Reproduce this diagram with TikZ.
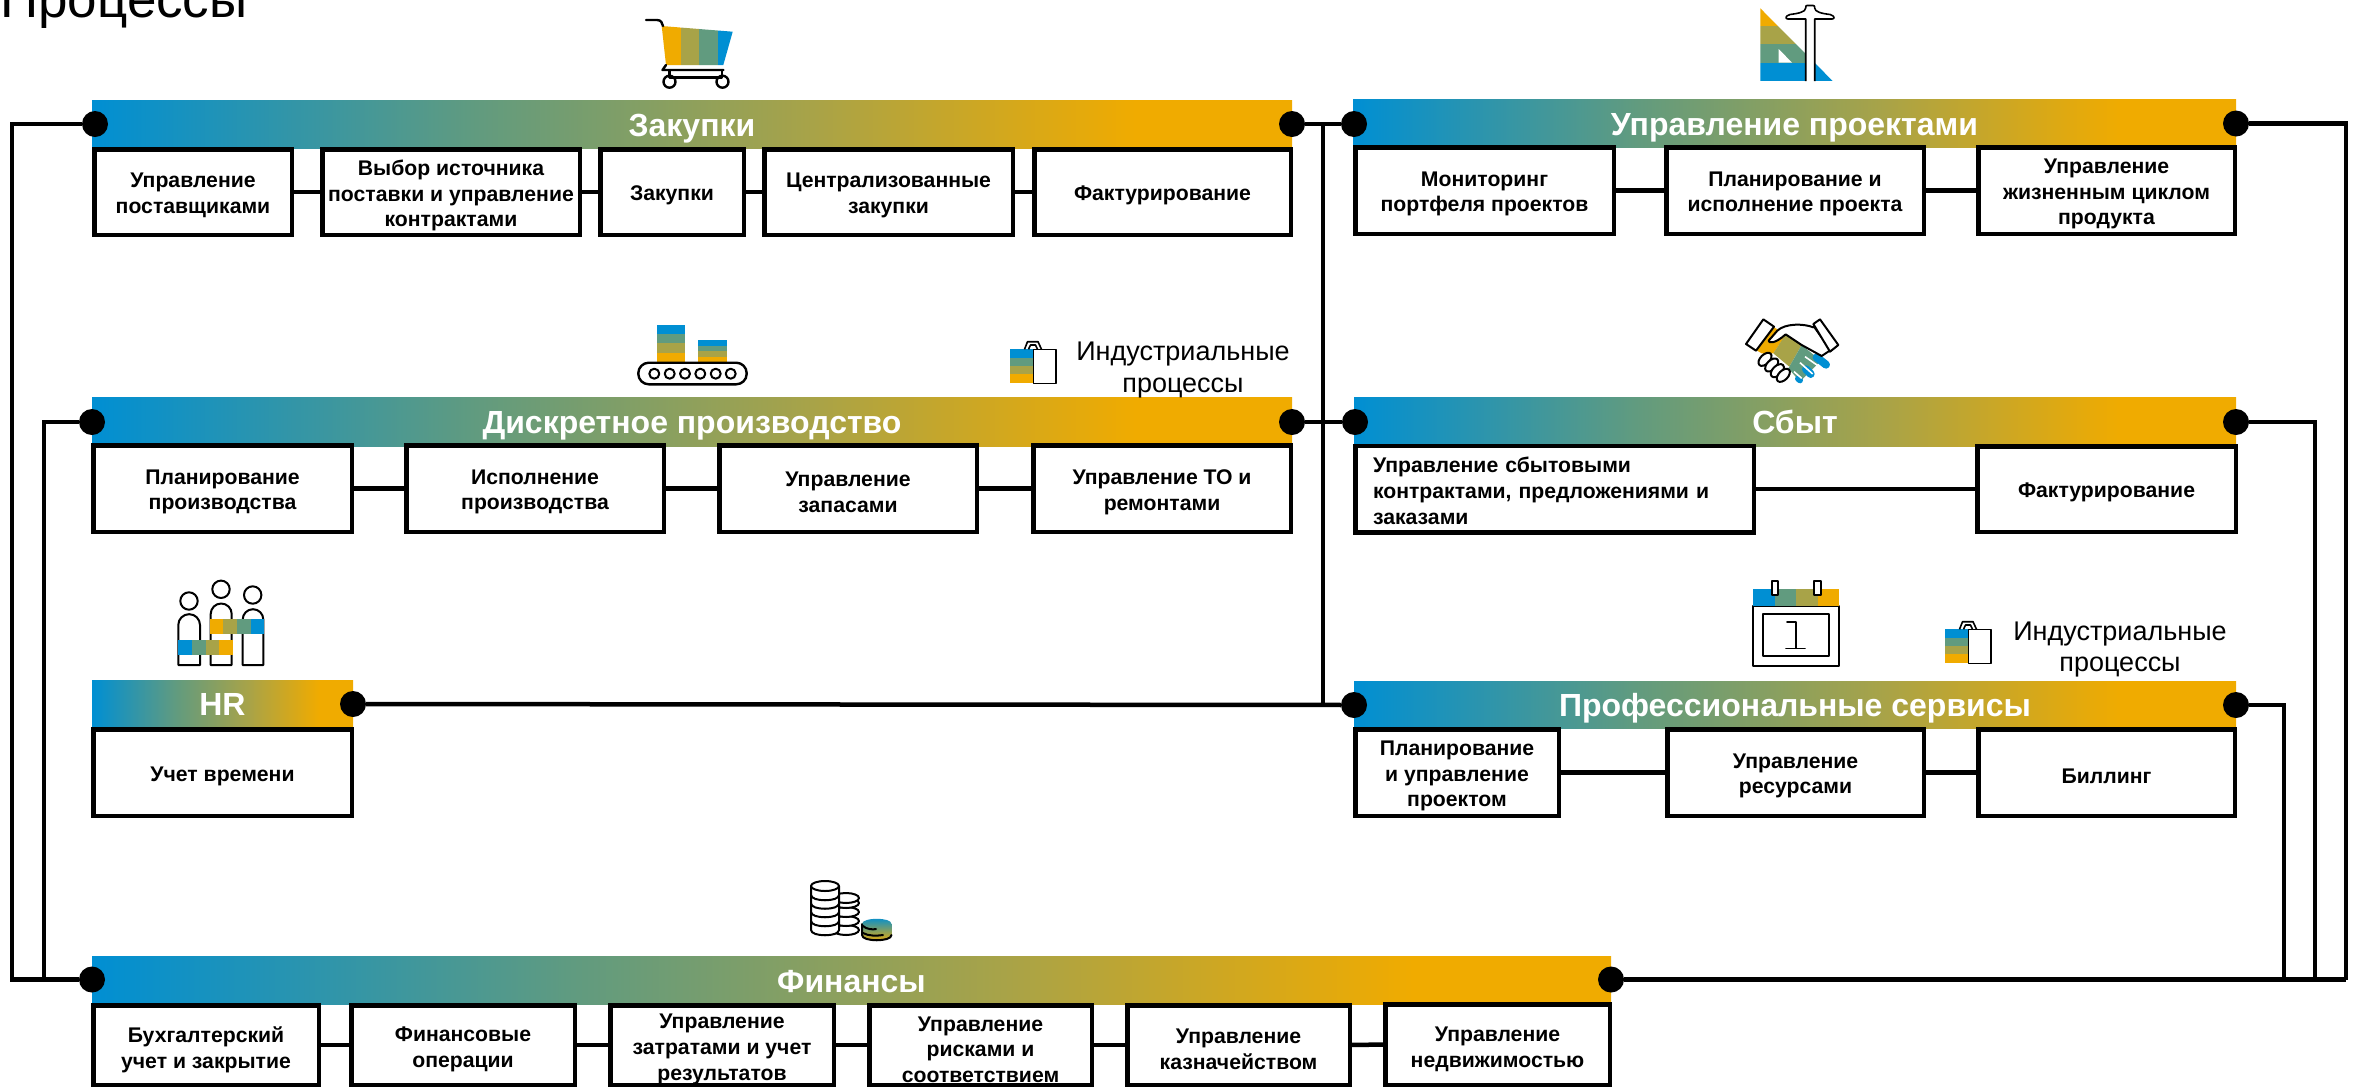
\documentclass[tikz,border=0pt]{standalone}
\usepackage{fontspec}
\setmainfont{Liberation Sans}
\definecolor{sapblue}{HTML}{008FD3}
\definecolor{sapgreen}{HTML}{619B7F}
\definecolor{sapolive}{HTML}{A8A348}
\definecolor{sapgold}{HTML}{F0AB00}
\pgfdeclarehorizontalshading{sapgrad}{100bp}{color(0bp)=(sapblue); color(25bp)=(sapblue); color(41bp)=(sapgreen); color(55bp)=(sapolive); color(68.5bp)=(sapgold); color(100bp)=(sapgold)}
\tikzset{
  x=1pt,y=-1pt,
  hdr/.style={inner sep=0pt,outer sep=0pt,shade,shading=sapgrad,text=white,font=\fontsize{32}{36}\selectfont\bfseries,text height=24pt,text depth=0pt},
  boxs/.style={draw=black,fill=white,line width=4.5pt,inner sep=0pt,outer sep=0pt},
  boxt/.style={inner sep=0pt,outer sep=0pt,align=center,font=\fontsize{21.2}{25.7}\selectfont\bfseries},
  conn/.style={draw=black,line width=4.5pt,line join=miter},
  dotn/.style={circle,fill=black,minimum size=26pt,inner sep=0pt,outer sep=0pt},
  lbl/.style={inner sep=0pt,align=center,font=\fontsize{27}{31.5}\selectfont},
  ico/.style={draw=black,line width=2pt,line join=round,line cap=round},
  icothin/.style={draw=black,line width=1.6pt,line join=round},
}
\def\tsh{-3.5}
\newcommand{\hd}[6]{%
  \pgfmathsetmacro\myw{#4-#2}\pgfmathsetmacro\myh{#5-#3}%
  \pgfmathsetmacro\mycx{(#4+#2)/2}\pgfmathsetmacro\mycy{(#5+#3)/2}%
  \node[hdr,minimum width=\myw pt,minimum height=\myh pt] (#1) at (\mycx,\mycy) {#6};}
\newcommand{\bx}[6]{%
  \pgfmathsetmacro\myw{#4-#2-4.5}\pgfmathsetmacro\myh{#5-#3-4.5}%
  \pgfmathsetmacro\mycx{(#4+#2)/2}\pgfmathsetmacro\mycy{(#5+#3)/2}%
  \node[boxs,minimum width=\myw pt,minimum height=\myh pt] (#1) at (\mycx,\mycy) {};
  \node[boxt] (#1t) at ([yshift=\tsh pt]#1.center) {#6};}
\begin{document}
\begin{tikzpicture}
\useasboundingbox (0,0) rectangle (2356,1088);
\clip (0,0) rectangle (2356,1088);
\fill[white] (0,0) rectangle (2356,1088);

% title
\node[inner sep=0pt,anchor=base west,font=\fontsize{53}{60}\selectfont] (title) at (0,17) {Процессы};

% headers
\hd{hZak}{92}{100}{1292}{148}{Закупки}
\hd{hPrj}{1353}{99}{2236}{147}{Управление проектами}
\hd{hDis}{92}{397}{1292}{446}{Дискретное производство}
\hd{hSby}{1354}{397}{2236}{446}{Сбыт}
\hd{hHR}{92}{680}{353}{727}{HR}
\hd{hPro}{1354}{681}{2236}{728}{Профессиональные сервисы}
\hd{hFin}{92}{956}{1611}{1004}{Финансы}

% boxes row 1 left
\bx{a1}{92}{147}{294}{237}{Управление\\поставщиками}
\bx{a2}{320}{147}{582}{237}{Выбор источника\\поставки и управление\\контрактами}
\bx{a3}{598}{147}{746}{237}{Закупки}
\bx{a4}{762}{147}{1015}{237}{Централизованные\\закупки}
\bx{a5}{1032}{147}{1293}{237}{Фактурирование}
% row 1 right
\bx{b1}{1353}{145}{1616}{236}{Мониторинг\\портфеля проектов}
\bx{b2}{1664}{145}{1926}{236}{Планирование и\\исполнение проекта}
\bx{b3}{1976}{145}{2237}{236}{Управление\\жизненным циклом\\продукта}
% row 2 left
\bx{c1}{91}{443}{354}{534}{Планирование\\производства}
\bx{c2}{404}{443}{666}{534}{Исполнение\\производства}
\bx{c3}{717}{443}{979}{534}{Управление\\запасами}
\bx{c4}{1031}{443}{1293}{534}{Управление ТО и\\ремонтами}
% row 2 right
\node[boxs,minimum width=398.5pt,minimum height=86.5pt] (d1) at (1554.5,489) {};
\node[boxt,text width=363pt,align=left] (d1t) at ([yshift=-2pt]d1.center) {Управление сбытовыми\\контрактами, предложениями и\\заказами};
\bx{d2}{1975}{444}{2238}{534}{Фактурирование}
% HR
\bx{e1}{91}{727}{354}{818}{Учет времени}
% prof services
\bx{f1}{1353}{727}{1561}{818}{Планирование\\и управление\\проектом}
\bx{f2}{1665}{727}{1926}{818}{Управление\\ресурсами}
\bx{f3}{1976}{727}{2237}{818}{Биллинг}
% finance
\def\tsh{-4.5}
\bx{g1}{91}{1003}{321}{1087}{Бухгалтерский\\учет и закрытие}
\bx{g2}{349}{1003}{577}{1087}{Финансовые\\операции}
\bx{g3}{608}{1003}{836}{1087}{Управление\\затратами и учет\\результатов}
\bx{g4}{867}{1003}{1094}{1087}{Управление\\рисками и\\соответствием}
\bx{g5}{1125}{1003}{1352}{1087}{Управление\\казначейством}
\bx{g6}{1383}{1002}{1612}{1087}{Управление\\недвижимостью}

% box links
\draw[conn] (a1.east) -- (a2.west);
\draw[conn] (a2.east) -- (a3.west);
\draw[conn] (a3.east) -- (a4.west);
\draw[conn] (a4.east) -- (a5.west);
\draw[conn] (b1.east) -- (b2.west);
\draw[conn] (b2.east) -- (b3.west);
\draw[conn] (c1.east) -- (c2.west);
\draw[conn] (c2.east) -- (c3.west);
\draw[conn] (c3.east) -- (c4.west);
\draw[conn] (d1.east) -- (d2.west);
\draw[conn] (f1.east) -- (f2.west);
\draw[conn] (f2.east) -- (f3.west);
\draw[conn] (g1.east) -- (g2.west);
\draw[conn] (g2.east) -- (g3.west);
\draw[conn] (g3.east) -- (g4.west);
\draw[conn] (g4.east) -- (g5.west);
\draw[conn] (g5.east) -- (g6.west);

% dots
\node[dotn] (dZakL) at (95,124) {};
\node[dotn] (dZakR) at (1292,124) {};
\node[dotn] (dPrjL) at (1354,124) {};
\node[dotn] (dPrjR) at (2236,123.5) {};
\node[dotn] (dDisL) at (92,422) {};
\node[dotn] (dDisR) at (1292,422) {};
\node[dotn] (dSbyL) at (1355,422) {};
\node[dotn] (dSbyR) at (2236,422) {};
\node[dotn] (dHR) at (353,704) {};
\node[dotn] (dProL) at (1354,705) {};
\node[dotn] (dProR) at (2236,705) {};
\node[dotn] (dFinL) at (92,979.5) {};
\node[dotn] (dFinR) at (1611,979.5) {};

% routing points
\coordinate (p1) at (12,124);
\coordinate (p2) at (12,979.5);
\coordinate (p3) at (44,422);
\coordinate (p4) at (44,979.5);
\coordinate (p5) at (2346,123.5);
\coordinate (p6) at (2346,979.5);
\coordinate (p7) at (2315,422);
\coordinate (p8) at (2315,979.5);
\coordinate (p9) at (2284,705);
\coordinate (p10) at (2284,979.5);
\coordinate (jt) at (1323,124);
\coordinate (jb) at (1323,704.8);

\draw[conn] (dZakL) -- (p1) -- (p2) -- (dFinL);
\draw[conn] (dDisL) -- (p3) -- (p4);
\draw[conn] (dZakR) -- (dPrjL);
\draw[conn] (dDisR) -- (dSbyL);
\draw[conn] (dHR) -- (dProL);
\draw[conn] (jt) -- (jb);
\draw[conn] (dPrjR) -- (p5) -- (p6);
\draw[conn] (dSbyR) -- (p7) -- (p8);
\draw[conn] (dProR) -- (p9) -- (p10);
\draw[conn] (dFinR) -- (p6);

% labels
\node[lbl] (ind1) at (1183,370) {Индустриальные\\процессы};
\node[lbl] (ind2) at (2120,649.5) {Индустриальные\\процессы};

% bags
\foreach \sx/\sy in {0/0,935/280}{
\begin{scope}[shift={(\sx pt,-\sy pt)}]
  \fill[sapblue] (1010,349.3) rectangle (1033.3,357.7);
  \fill[sapgreen] (1010,357.7) rectangle (1033.3,366);
  \fill[sapolive] (1010,366) rectangle (1033.3,374.3);
  \fill[sapgold] (1010,374.3) rectangle (1033.3,383.3);
  \draw[icothin] (1033.3,349.3) -- (1055.7,349.3) -- (1055.7,383.3) -- (1033.3,383.3) -- cycle;
  \draw[icothin] (1024.5,349.3) -- (1027.5,341.7) -- (1038,341.7) -- (1041.5,349.3);
  \draw[icothin] (1028.5,349.3) -- (1030.5,345) -- (1035.5,345) -- (1037.5,349.3);
\end{scope}}

% cart
\begin{scope}
  \clip (661.7,26) -- (732.7,31.7) -- (723.3,65) -- (666,65) -- cycle;
  \fill[sapgold] (660,20) rectangle (680.7,70);
  \fill[sapolive] (680.7,20) rectangle (699.3,70);
  \fill[sapgreen] (699.3,20) rectangle (717.7,70);
  \fill[sapblue] (717.7,20) rectangle (735,70);
\end{scope}
\draw[ico,line width=2.4pt] (646,20) -- (657,20) .. controls (661,20) and (662.5,23) .. (663,26);
\draw[ico,line width=2.4pt] (666,65) -- (662.5,70) -- (723.5,70);
\draw[ico,line width=2.4pt] (669.5,71) -- (669.5,77.5) -- (722,77.5) -- (722,71);
\draw[ico,line width=2.4pt] (669.5,81.7) circle (6);
\draw[ico,line width=2.4pt] (722.5,81.7) circle (6);

% conveyor
\fill[sapblue] (656.7,324.7) rectangle (685,334);
\fill[sapgreen] (656.7,334) rectangle (685,343.3);
\fill[sapolive] (656.7,343.3) rectangle (685,353);
\fill[sapgold] (656.7,353) rectangle (685,362.7);
\fill[sapblue] (698.3,340) rectangle (726.7,345.7);
\fill[sapgreen] (698.3,345.7) rectangle (726.7,351.3);
\fill[sapolive] (698.3,351.3) rectangle (726.7,356.7);
\fill[sapgold] (698.3,356.7) rectangle (726.7,362.7);
\draw[ico,line width=2.4pt,rounded corners=10.5pt] (638.3,362.7) rectangle (746.7,384.3);
\foreach \cx in {654.3,669.7,685,700.3,715.7,730.7}{\draw[ico] (\cx,373.7) circle (5);}

% ruler
\begin{scope}
  \clip (1760.3,8.3) -- (1760.3,81) -- (1832.7,81) -- cycle;
  \fill[sapgold] (1760,8) rectangle (1835,26);
  \fill[sapolive] (1760,26) rectangle (1835,44.3);
  \fill[sapgreen] (1760,44.3) rectangle (1835,62.7);
  \fill[sapblue] (1760,62.7) rectangle (1835,81);
\end{scope}
\fill[white] (1778.7,49) -- (1778.7,62.7) -- (1792,62.7) -- cycle;
\draw[icothin,fill=white] (1805.7,81) -- (1805.7,19) -- (1788,19) .. controls (1785,19) and (1785,16) .. (1790,14.5) .. controls (1798,13.5) and (1805.7,12) .. (1805.7,8) .. controls (1805.7,6) and (1806,5.5) .. (1807,5.5) -- (1813,5.5) .. controls (1814.5,5.5) and (1814.7,6) .. (1814.7,8) .. controls (1814.7,12) and (1822,13.5) .. (1830,14.5) .. controls (1835,16) and (1835,19) .. (1832,19) -- (1814.7,19) -- (1814.7,81);

% handshake
\begin{scope}[shift={(1720pt,-300pt)},x=0.3333pt,y=-0.3333pt]
  \fill[sapgold] (163,82) -- (108,150) -- (125,160) -- (160,160) -- (197,105) -- cycle;
  \fill[sapolive] (197,103) -- (245,135) -- (208,200) -- (160,160) -- cycle;
  \fill[sapgreen] (245,135) -- (285,168) -- (300,185) -- (240,245) -- (205,205) -- cycle;
  \draw[sapblue,line width=8pt,line cap=round] (290,172) -- (318,194);
  \draw[sapblue,line width=8pt,line cap=round] (258,208) -- (272,222);
  \draw[sapblue,line width=6pt,line cap=round] (234,236) -- (240,241);
  \draw[white,line width=1.6pt] (255,170) -- (305,205);
  \draw[white,line width=1.6pt] (240,188) -- (278,222);
  \draw[white,line width=1.6pt] (222,215) -- (245,235);
  \draw[ico,fill=white] (280,82) .. controls (250,70) and (195,70) .. (172,92) -- (146,122) .. controls (145,130) and (165,132) .. (197,103) -- (245,135) -- (305,168) -- (332,150) -- (282,80);
  \draw[ico,fill=white] (78,132) -- (130,58) -- (162,80) -- (108,152) -- cycle;
  \draw[ico,fill=white] (280,72) -- (300,58) -- (355,135) -- (330,155) -- cycle;
  \draw[ico,fill=white,rotate around={45:(135,178)}] (135,178) ellipse (24 and 14);
  \draw[ico,fill=white,rotate around={45:(155,195)}] (155,195) ellipse (24 and 14);
  \draw[ico,fill=white,rotate around={45:(172,212)}] (172,212) ellipse (24 and 14);
  \draw[ico,fill=white,rotate around={45:(190,226)}] (190,226) ellipse (24 and 14);
\end{scope}

% calendar
\draw[ico] (1753,606) rectangle (1839,665.7);
\fill[sapblue] (1753,589.3) rectangle (1774.8,606);
\fill[sapgreen] (1774.8,589.3) rectangle (1796,606);
\fill[sapolive] (1796,589.3) rectangle (1817.6,606);
\fill[sapgold] (1817.6,589.3) rectangle (1839,606);
\draw[ico,fill=white] (1771.6,580.7) rectangle (1778,594.7);
\draw[ico,fill=white] (1814,580.7) rectangle (1821,594.7);
\draw[ico] (1763,614.3) rectangle (1829,655.7);
\draw[ico,line width=1.6pt] (1787,621.7) -- (1796,621.7) -- (1796,648.3);
\draw[ico,line width=1.6pt] (1786,648.3) -- (1805,648.3);

% people
\draw[ico] (189,601) circle (8.7);
\draw[ico] (221,589.3) circle (8.7);
\draw[ico] (252.7,595) circle (8.7);
\draw[ico] (178.3,665) -- (178.3,625) arc (180:360:10.85) -- (200,665) -- cycle;
\draw[ico] (210.7,665) -- (210.7,614) arc (180:360:10.5) -- (231.7,665) -- cycle;
\draw[ico] (242.7,665) -- (242.7,619.5) arc (180:360:10.3) -- (263.3,665) -- cycle;
\fill[sapgold] (210,619.3) rectangle (223.3,634);
\fill[sapolive] (223.3,619.3) rectangle (237.3,634);
\fill[sapgreen] (237.3,619.3) rectangle (251,634);
\fill[sapblue] (251,619.3) rectangle (263.8,634);
\fill[sapblue] (177.8,640) rectangle (192,654.7);
\fill[sapgreen] (192,640) rectangle (205.7,654.7);
\fill[sapolive] (205.7,640) rectangle (219.3,654.7);
\fill[sapgold] (219.3,640) rectangle (232.7,654.7);

% coins
\foreach \yy in {930,921,912,903}{\draw[ico,fill=white] (846,\yy) ellipse (13 and 5);}
\draw[ico,fill=white] (846,898) ellipse (13 and 5);
\draw[ico,fill=white] (811,886) -- (811,930) .. controls (811,937) and (839,937) .. (839,930) -- (839,886) -- cycle;
\foreach \yy in {895,903.5,912,921}{\draw[ico] (811,\yy) .. controls (811,\yy+7) and (839,\yy+7) .. (839,\yy);}
\draw[ico,fill=white] (825,886) ellipse (14 and 5);
\shade[top color=sapblue,middle color=sapolive,bottom color=sapgold] (862,924) .. controls (862,917) and (891.5,917) .. (891.5,924) -- (891.5,935) .. controls (891.5,942) and (862,942) .. (862,935) -- cycle;
\draw[ico] (862,924) -- (862,935) .. controls (862,942) and (891.5,942) .. (891.5,935);
\draw[ico] (863,926) .. controls (866,929) and (873,930) .. (876,929);
\draw[ico] (863,933) .. controls (868,936) and (877,936) .. (883,935);
\end{tikzpicture}
\end{document}
